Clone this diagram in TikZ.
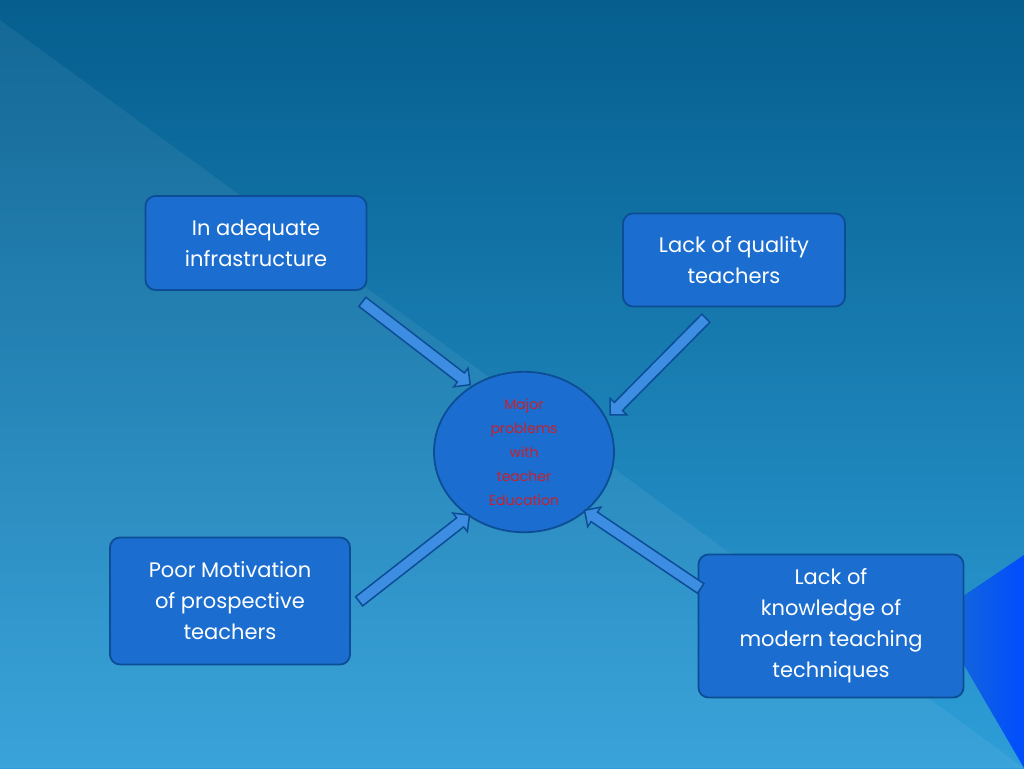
\documentclass[tikz,border=0pt]{standalone}
\usepackage{fontspec}
\setmainfont{Poppins}
\usetikzlibrary{shapes.arrows,shapes.geometric}
\definecolor{bgtop}{HTML}{055E8E}
\definecolor{bgbot}{HTML}{2E9ED8}
\definecolor{boxfill}{HTML}{1B6ECF}
\definecolor{boxline}{HTML}{0C4D96}
\definecolor{arrfill}{HTML}{3D8DE2}
\definecolor{redtxt}{HTML}{C8202C}
\begin{document}
\begin{tikzpicture}[x=1pt,y=-1pt,
  box/.style={draw=boxline,line width=1.8pt,fill=boxfill,rounded corners=10pt,text=white,align=center,font=\fontsize{21}{31}\selectfont,inner sep=0pt},
  barrow/.style={single arrow,draw=boxline,line width=1.5pt,fill=arrfill,single arrow head extend=6pt,inner sep=5pt,sloped,allow upside down,single arrow head indent=0pt}]
\useasboundingbox (0,0) rectangle (1024,768);
\shade[top color=bgtop,bottom color=bgbot] (0,0) rectangle (1024,768);
\fill[white,opacity=0.06] (0,20) -- (1024,768) -- (0,768) -- cycle;
\shade[left color=boxfill,right color=blue!70!cyan] (1024,555) -- (935,615) -- (1024,768) -- cycle;
\node[box,minimum width=221pt,minimum height=94pt] (b1) at (256,243) {In adequate\\infrastructure};
\node[box,minimum width=222pt,minimum height=93pt] (b2) at (734,260) {Lack of quality\\teachers};
\node[box,minimum width=240pt,minimum height=127pt] (b3) at (230,601) {Poor Motivation\\of prospective\\teachers};
\node[box,minimum width=265pt,minimum height=143pt] (b4) at (831,626) {Lack of\\knowledge of\\modern teaching\\techniques};
\node[ellipse,draw=boxline,line width=1.8pt,fill=boxfill,minimum width=180pt,minimum height=154pt,text=redtxt,align=center,font=\fontsize{14}{24}\selectfont] (c) at (524,452) {Major\\problems\\with\\teacher\\Education};
\coordinate (a1s) at (360,300); \coordinate (a1e) at (468,383);
\coordinate (a2s) at (708,316); \coordinate (a2e) at (612,413);
\coordinate (a3s) at (357,603); \coordinate (a3e) at (467,517);
\coordinate (a4s) at (703,590); \coordinate (a4e) at (587,512);
\path (a1s) -- (a1e) node[barrow,midway,minimum height=136pt] {};
\path (a2s) -- (a2e) node[barrow,midway,minimum height=136pt] {};
\path (a3s) -- (a3e) node[barrow,midway,minimum height=140pt] {};
\path (a4s) -- (a4e) node[barrow,midway,minimum height=140pt] {};
\end{tikzpicture}
\end{document}
